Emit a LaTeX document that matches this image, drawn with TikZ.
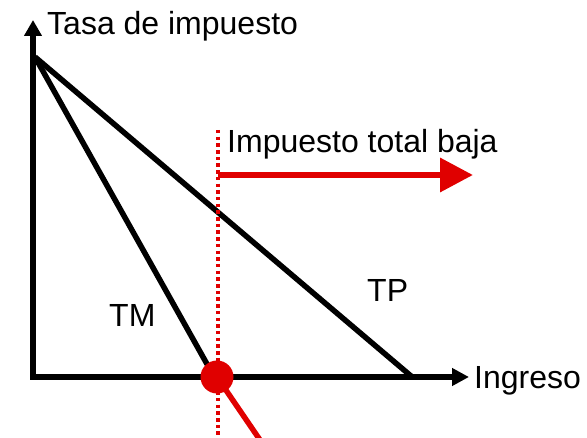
\documentclass[tikz,border=0pt]{standalone}
\usepackage{fontspec}
\setmainfont{Liberation Sans}
\usetikzlibrary{arrows.meta}
\definecolor{myred}{RGB}{224,0,0}
\begin{document}
\begin{tikzpicture}[x=1pt,y=-1pt,
  axis/.style={line width=5.5pt,black},
  curve/.style={line width=5.5pt,black},
  lbl/.style={font=\fontsize{32}{36}\selectfont,inner sep=0pt,anchor=base west},
  dotline/.style={line width=3.5pt,myred,dash pattern=on 3.5pt off 3.2pt},
  redarrow/.style={line width=6.5pt,myred,-{Triangle[length=33pt,width=33pt]}}]
\useasboundingbox (0,0) rectangle (587,438);
% coordinates
\coordinate (O) at (33,377);
\coordinate (ytop) at (33,20);
\coordinate (xend) at (469,377);
\coordinate (A) at (35,57);
\coordinate (TMend) at (212,373);
\coordinate (TPend) at (411,376);
\coordinate (dot) at (217,377);
\coordinate (redend) at (260,440);
\coordinate (dtop) at (218,130);
\coordinate (dbot) at (218,438);
\coordinate (as) at (218,175);
\coordinate (at) at (473,175);
% axes
\draw[axis,-{Triangle[length=16pt,width=17pt]}] (O) -- (ytop);
\draw[axis,-{Triangle[length=17pt,width=17pt]}] ([xshift=-2.75pt]O) -- (xend);
% lines
\draw[curve] (A) -- (TPend);
\draw[curve] (A) -- (TMend);
\draw[line width=5.5pt,myred] (dot) -- (redend);
\fill[myred] (dot) circle (16.5pt);
\draw[dotline] (dtop) -- (dbot);
\draw[redarrow] (as) -- (at);
% labels
\node[lbl] (ylab) at (47,35) {Tasa de impuesto};
\node[lbl] (xlab) at (474,389) {Ingreso};
\node[lbl] (itb) at (227,153) {Impuesto total baja};
\node[lbl] (tm) at (109,327) {TM};
\node[lbl] (tp) at (367,302) {TP};
\end{tikzpicture}
\end{document}
